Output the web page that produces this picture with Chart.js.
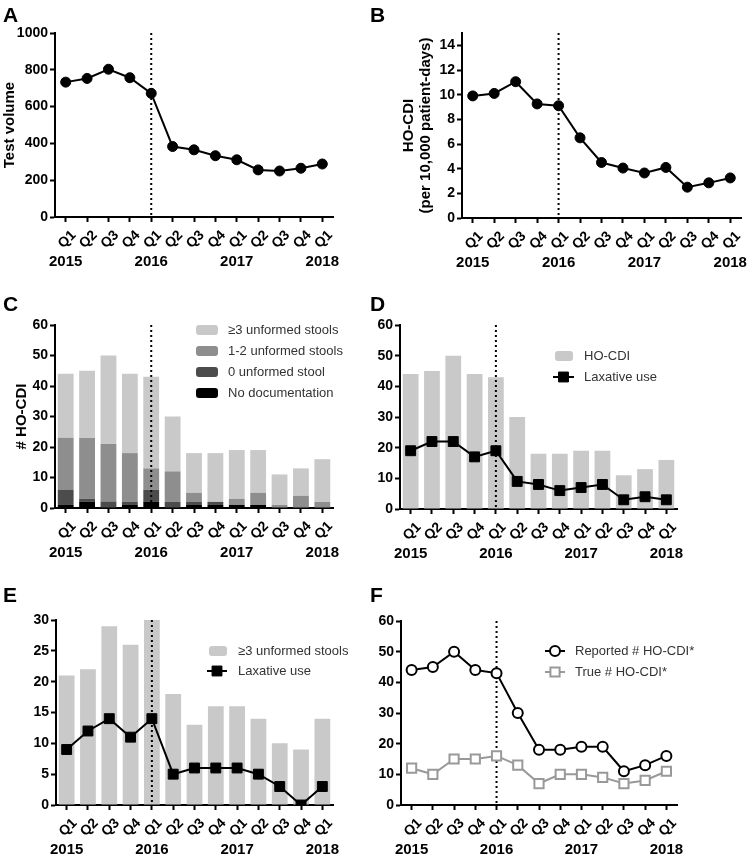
<!DOCTYPE html>
<html>
<head>
<meta charset="utf-8">
<script src="https://cdn.jsdelivr.net/npm/chart.js@4"></script>
<style>
  html, body { margin: 0; padding: 0; background: #fff; overflow: hidden; width: 750px; height: 855px; }
  canvas { position: absolute; }
</style>
</head>
<body>
<canvas id="cA"></canvas>
<canvas id="cB"></canvas>
<canvas id="cC"></canvas>
<canvas id="cD"></canvas>
<canvas id="cE"></canvas>
<canvas id="cF"></canvas>
<script>
// ---------------- DATA ----------------
const quarters = ['Q1','Q2','Q3','Q4','Q1','Q2','Q3','Q4','Q1','Q2','Q3','Q4','Q1'];
const years = ['2015','','','','2016','','','','2017','','','','2018'];
const interventionIndex = 4;

const testVolume = [733, 753, 803, 757, 672, 383, 365, 333, 311, 256, 250, 265, 288];
const hoCdiRate = [9.9, 10.1, 11.05, 9.25, 9.1, 6.5, 4.5, 4.05, 3.65, 4.1, 2.5, 2.85, 3.25];

const noDocumentation = [1, 2, 0, 1, 2, 0, 1, 1, 1, 1, 0, 0, 0];
const zeroUnformed    = [5, 1, 2, 1, 4, 2, 1, 1, 0, 0, 0, 0, 0];
const oneTwoUnformed  = [17, 20, 19, 16, 7, 10, 3, 0, 2, 4, 1, 4, 2];
const threePlusUnformed = [21, 22, 29, 26, 30, 18, 13, 16, 16, 14, 10, 9, 14];

const hoCdiCount = [44, 45, 50, 44, 43, 30, 18, 18, 19, 19, 11, 13, 16];
const laxativeAll = [19, 22, 22, 17, 19, 9, 8, 6, 7, 8, 3, 4, 3];
const laxativeThreePlus = [9, 12, 14, 11, 14, 5, 6, 6, 6, 5, 3, 0, 3];

const reportedHoCdi = [44, 45, 50, 44, 43, 30, 18, 18, 19, 19, 11, 13, 16];
const trueHoCdi = [12, 10, 15, 15, 16, 13, 7, 10, 10, 9, 7, 8, 11];

// ---------------- STYLE ----------------
const FONT = "'Liberation Sans', Arial, Helvetica, sans-serif";
Chart.defaults.font.family = FONT;
Chart.defaults.color = '#000';
const LIGHT = '#c9c9c9', MEDIUM = '#8e8e8e', DARK = '#4c4c4c', BLACK = '#000000', TRUEGRAY = '#999999';

function roundRect(ctx, x, y, w, h, r) {
  ctx.beginPath();
  ctx.moveTo(x + r, y);
  ctx.lineTo(x + w - r, y); ctx.arcTo(x + w, y, x + w, y + r, r);
  ctx.lineTo(x + w, y + h - r); ctx.arcTo(x + w, y + h, x + w - r, y + h, r);
  ctx.lineTo(x + r, y + h); ctx.arcTo(x, y + h, x, y + h - r, r);
  ctx.lineTo(x, y + r); ctx.arcTo(x, y, x + r, y, r);
  ctx.closePath();
}

function drawMarker(ctx, m, x, y) {
  ctx.save();
  ctx.lineWidth = m.borderWidth || 0;
  ctx.strokeStyle = m.border;
  ctx.fillStyle = m.fill;
  ctx.beginPath();
  if (m.style === 'rect') {
    const s = Math.SQRT1_2 * m.radius;
    ctx.rect(x - s, y - s, 2 * s, 2 * s);
  } else {
    ctx.arc(x, y, m.radius, 0, Math.PI * 2);
  }
  ctx.fill();
  if (m.borderWidth) ctx.stroke();
  ctx.restore();
}

function makePanelPlugin(p) {
  function dots(chart) {
    const ctx = chart.ctx, a = chart.chartArea;
    const x = chart.scales.x.getPixelForValue(interventionIndex);
    ctx.save();
    ctx.strokeStyle = '#000';
    ctx.lineWidth = 2;
    ctx.setLineDash([2, 3]);
    ctx.beginPath();
    ctx.moveTo(x, a.top);
    ctx.lineTo(x, a.bottom);
    ctx.stroke();
    ctx.restore();
  }
  return {
    id: 'panel' + p.letter,
    beforeDatasetsDraw(chart) { if (p.dotMode === 'before') dots(chart); },
    afterDatasetDraw(chart, args) { if (p.dotMode === 'afterBar' && args.meta.type === 'bar') dots(chart); },
    afterDatasetsDraw(chart) { if (p.dotMode === 'after') dots(chart); },
    afterDraw(chart) {
      const ctx = chart.ctx;
      ctx.save();
      ctx.fillStyle = '#000';
      ctx.font = "bold 21px " + FONT;
      ctx.textBaseline = 'alphabetic';
      ctx.textAlign = 'left';
      ctx.fillText(p.letter, p.letterX, p.letterY);
      if (p.legend) {
        const L = p.legend;
        ctx.font = "13px " + FONT;
        ctx.textBaseline = 'middle';
        L.items.forEach((it, i) => {
          const y = L.y0 + i * L.dy;
          if (it.kind === 'box') {
            ctx.fillStyle = it.color;
            roundRect(ctx, L.x0, y - it.h / 2, it.w, it.h, 3);
            ctx.fill();
          } else {
            ctx.strokeStyle = it.color;
            ctx.lineWidth = 2;
            ctx.beginPath();
            ctx.moveTo(L.lx0, y);
            ctx.lineTo(L.lx1, y);
            ctx.stroke();
            drawMarker(ctx, it.marker, (L.lx0 + L.lx1) / 2, y);
          }
          ctx.fillStyle = '#333';
          ctx.fillText(it.text, L.textX, y + 0.5);
        });
      }
      ctx.restore();
    }
  };
}

function scales(o) {
  return {
    x: {
      type: 'category', offset: true, stacked: !!o.stacked, weight: 0, position: 'bottom',
      grid: { display: true, drawOnChartArea: false, drawTicks: true, tickLength: 5, tickWidth: 2, tickColor: '#000', offset: false },
      border: { display: true, color: '#000', width: 2 },
      ticks: { autoSkip: false, minRotation: 45, maxRotation: 45, padding: 5, labelOffset: 8, color: '#000', font: { size: 14, weight: 'bold' } },
      afterFit: s => { s.height = 34; s.paddingLeft = 0; s.paddingRight = 0; }
    },
    x2: {
      type: 'category', labels: years, offset: true, weight: 1, position: 'bottom',
      grid: { display: false, drawTicks: false },
      border: { display: false },
      ticks: { autoSkip: false, minRotation: 0, maxRotation: 0, padding: 2, color: '#000', font: { size: 15, weight: 'bold' } },
      afterFit: s => { s.height = 20; s.paddingLeft = 0; s.paddingRight = 0; }
    },
    y: {
      type: 'linear', min: 0, max: o.max, stacked: !!o.stacked,
      grid: { display: true, drawOnChartArea: false, drawTicks: true, tickLength: 5, tickWidth: 2, tickColor: '#000' },
      border: { display: true, color: '#000', width: 2 },
      ticks: { stepSize: o.step, includeBounds: false, padding: 2, color: '#000', font: { size: 14, weight: 'bold' },
               callback: v => String(v) },
      title: o.title ? { display: true, text: o.title, color: '#000', padding: { top: o.titlePad, bottom: 0 }, font: { size: 15, weight: 'bold', lineHeight: o.titleLH || 1.2 } } : { display: false },
      afterFit: s => { s.width = o.yWidth; s.paddingTop = 0; s.paddingBottom = 0; }
    }
  };
}

function makeChart(id, box, pad, type, datasets, sc, panel) {
  const cv = document.getElementById(id);
  cv.width = box.w; cv.height = box.h;
  cv.style.left = box.left + 'px'; cv.style.top = box.top + 'px';
  cv.style.width = box.w + 'px'; cv.style.height = box.h + 'px';
  return new Chart(cv, {
    type: type,
    data: { labels: quarters, datasets: datasets },
    options: {
      responsive: false, animation: false, devicePixelRatio: 1, events: [],
      layout: { padding: pad },
      plugins: { legend: { display: false }, tooltip: { enabled: false } },
      scales: sc
    },
    plugins: [makePanelPlugin(panel)]
  });
}

const blackLine = (data, style, r) => ({
  type: 'line', data: data, borderColor: '#000', borderWidth: 2, tension: 0,
  pointStyle: style, pointRadius: r, pointBackgroundColor: '#000', pointBorderColor: '#000', pointBorderWidth: 1, order: 0
});
const barSet = (data, color, order) => ({
  type: 'bar', data: data, backgroundColor: color, borderWidth: 0, barPercentage: 0.74, categoryPercentage: 1.0, order: order
});

// A
makeChart('cA', { left: 0, top: 0, w: 365, h: 285 }, { left: 0, top: 33, right: 32, bottom: 14 }, 'line',
  [blackLine(testVolume, 'circle', 5)],
  scales({ max: 1000, step: 200, yWidth: 55, title: 'Test volume', titlePad: 1 }),
  { letter: 'A', letterX: 3, letterY: 22, dotMode: 'before' });

// B
makeChart('cB', { left: 365, top: 0, w: 385, h: 285 }, { left: 0, top: 33, right: 9, bottom: 13 }, 'line',
  [blackLine(hoCdiRate, 'circle', 5)],
  scales({ max: 15, step: 2, yWidth: 97, title: ['HO-CDI', '(per 10,000 patient-days)'], titlePad: 36, titleLH: 1.1 }),
  { letter: 'B', letterX: 5, letterY: 22, dotMode: 'before' });

// C
makeChart('cC', { left: 0, top: 285, w: 365, h: 285 }, { left: 0, top: 40, right: 32, bottom: 8 }, 'bar',
  [barSet(noDocumentation, BLACK, 0), barSet(zeroUnformed, DARK, 0), barSet(oneTwoUnformed, MEDIUM, 0), barSet(threePlusUnformed, LIGHT, 0)],
  scales({ max: 60, step: 10, yWidth: 55, title: '# HO-CDI', titlePad: 13, stacked: true }),
  { letter: 'C', letterX: 3, letterY: 26, dotMode: 'after',
    legend: { x0: 196, y0: 45, dy: 21, textX: 228, items: [
      { kind: 'box', color: LIGHT, w: 22, h: 10, text: '\u22653 unformed stools' },
      { kind: 'box', color: MEDIUM, w: 22, h: 10, text: '1-2 unformed stools' },
      { kind: 'box', color: DARK, w: 22, h: 10, text: '0 unformed stool' },
      { kind: 'box', color: BLACK, w: 22, h: 10, text: 'No documentation' }
    ] } });

// D
makeChart('cD', { left: 365, top: 285, w: 385, h: 285 }, { left: 0, top: 40, right: 73, bottom: 7 }, 'bar',
  [blackLine(laxativeAll, 'rect', 7), barSet(hoCdiCount, LIGHT, 1)],
  scales({ max: 60, step: 10, yWidth: 35 }),
  { letter: 'D', letterX: 5, letterY: 26, dotMode: 'afterBar',
    legend: { x0: 190, y0: 71, dy: 21, textX: 219, lx0: 188, lx1: 209, items: [
      { kind: 'box', color: LIGHT, w: 18, h: 10, text: 'HO-CDI' },
      { kind: 'line', color: '#000', marker: { style: 'rect', radius: 7, fill: '#000', border: '#000', borderWidth: 1 }, text: 'Laxative use' }
    ] } });

// E
makeChart('cE', { left: 0, top: 570, w: 365, h: 290 }, { left: 0, top: 50, right: 32, bottom: 1 }, 'bar',
  [blackLine(laxativeThreePlus, 'rect', 7), barSet(threePlusUnformed, LIGHT, 1)],
  scales({ max: 30, step: 5, yWidth: 56 }),
  { letter: 'E', letterX: 3, letterY: 32, dotMode: 'afterBar',
    legend: { x0: 209, y0: 81, dy: 20, textX: 238, lx0: 207, lx1: 227, items: [
      { kind: 'box', color: LIGHT, w: 18, h: 10, text: '\u22653 unformed stools' },
      { kind: 'line', color: '#000', marker: { style: 'rect', radius: 7, fill: '#000', border: '#000', borderWidth: 1 }, text: 'Laxative use' }
    ] } });

// F
makeChart('cF', { left: 365, top: 570, w: 385, h: 290 }, { left: 0, top: 51, right: 73, bottom: 1 }, 'line',
  [
    { type: 'line', data: reportedHoCdi, borderColor: '#000', borderWidth: 2, tension: 0, pointStyle: 'circle', pointRadius: 5,
      pointBackgroundColor: '#ffffff', pointBorderColor: '#000', pointBorderWidth: 2, order: 0 },
    { type: 'line', data: trueHoCdi, borderColor: TRUEGRAY, borderWidth: 2, tension: 0, pointStyle: 'rect', pointRadius: 6.5,
      pointBackgroundColor: '#ffffff', pointBorderColor: TRUEGRAY, pointBorderWidth: 2, order: 1 }
  ],
  scales({ max: 60, step: 10, yWidth: 36 }),
  { letter: 'F', letterX: 5, letterY: 32, dotMode: 'before',
    legend: { y0: 81, dy: 21, textX: 210, lx0: 180, lx1: 200, items: [
      { kind: 'line', color: '#000', marker: { style: 'circle', radius: 5, fill: '#fff', border: '#000', borderWidth: 2 }, text: 'Reported # HO-CDI*' },
      { kind: 'line', color: TRUEGRAY, marker: { style: 'rect', radius: 6.5, fill: '#fff', border: TRUEGRAY, borderWidth: 2 }, text: 'True # HO-CDI*' }
    ] } });
</script>
</body>
</html>
